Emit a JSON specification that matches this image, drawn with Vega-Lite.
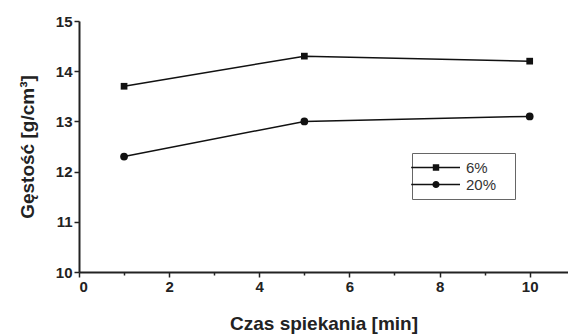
{
  "$schema": "https://vega.github.io/schema/vega-lite/v6.json",
  "autosize": "none",
  "width": 489,
  "height": 251,
  "padding": {"left": 79, "top": 21, "right": 0, "bottom": 64},
  "background": "white",
  "config": {
    "view": {"stroke": null},
    "font": "Liberation Sans",
    "axis": {"grid": false, "domainColor": "#222", "domainWidth": 2, "tickColor": "#222", "tickWidth": 1.5, "labelFont": "Liberation Sans", "labelFontWeight": "bold", "labelFontSize": 15, "labelColor": "#222", "titleFont": "Liberation Sans", "titleFontWeight": "bold", "titleFontSize": 19, "titleColor": "#222"}
  },
  "data": {"values": [
    {"t": 1, "d": 13.7, "s": "6%"},
    {"t": 5, "d": 14.3, "s": "6%"},
    {"t": 10, "d": 14.2, "s": "6%"},
    {"t": 1, "d": 12.3, "s": "20%"},
    {"t": 5, "d": 13.0, "s": "20%"},
    {"t": 10, "d": 13.1, "s": "20%"}
  ]},
  "encoding": {
    "x": {"field": "t", "type": "quantitative", "scale": {"domain": [0, 10.85], "nice": false, "zero": false},
      "axis": {"title": "Czas spiekania [min]", "values": [0,1,2,3,4,5,6,7,8,9,10], "format": "d", "labelExpr": "datum.value % 2 === 0 ? datum.label : ''", "tickSize": {"condition": {"test": "datum.value % 2 === 0", "value": 5}, "value": 3}, "labelPadding": 2, "titlePadding": 20}},
    "y": {"field": "d", "type": "quantitative", "scale": {"domain": [10, 15], "nice": false, "zero": false},
      "axis": {"title": "Gęstość [g/cm³]", "values": [10,10.5,11,11.5,12,12.5,13,13.5,14,14.5,15], "format": "d", "labelExpr": "datum.value % 1 === 0 ? datum.label : ''", "tickSize": {"condition": {"test": "datum.value % 1 === 0", "value": 5}, "value": 3}, "labelPadding": 2, "titlePadding": 18}},
    "detail": {"field": "s"}
  },
  "layer": [
    {"mark": {"type": "line", "color": "#111", "strokeWidth": 1.5}},
    {"mark": {"type": "point", "filled": true, "opacity": 1, "color": "#111"},
      "encoding": {
        "shape": {"field": "s", "type": "nominal",
          "scale": {"domain": ["6%", "20%"], "range": ["square", "circle"]},
          "legend": null},
        "size": {"field": "s", "type": "nominal", "scale": {"domain": ["6%", "20%"], "range": [45, 60]}, "legend": null}
      }
    },
    {"mark": {"type": "point", "filled": true, "opacity": 0, "color": "#111"},
      "encoding": {
        "shape": {"field": "s", "type": "nominal",
          "scale": {"domain": ["6%", "20%"], "range": ["M-3.1,-0.1H3V0.1H-3.1Z M-0.4,-0.4H0.4V0.4H-0.4Z", "M-3.1,-0.1H3V0.1H-3.1Z M-0.45,0A0.45,0.45 0 1,1 0.45,0A0.45,0.45 0 1,1 -0.45,0Z"]},
          "legend": {"title": "\u00a0", "titleOrient": "right", "titleFontSize": 4, "titlePadding": 12, "orient": "none", "legendX": 333, "legendY": 132, "symbolSize": 256, "symbolOpacity": 1, "symbolFillColor": "#111", "symbolStrokeWidth": 0, "strokeColor": "#666", "padding": 6.5, "rowPadding": 1, "labelFont": "Liberation Sans", "labelFontSize": 15, "labelColor": "#333", "labelOffset": 22, "symbolOffset": 9.5}
        }
      }
    }
  ],
  "resolve": {"scale": {"shape": "independent"}, "legend": {"shape": "independent"}}
}
